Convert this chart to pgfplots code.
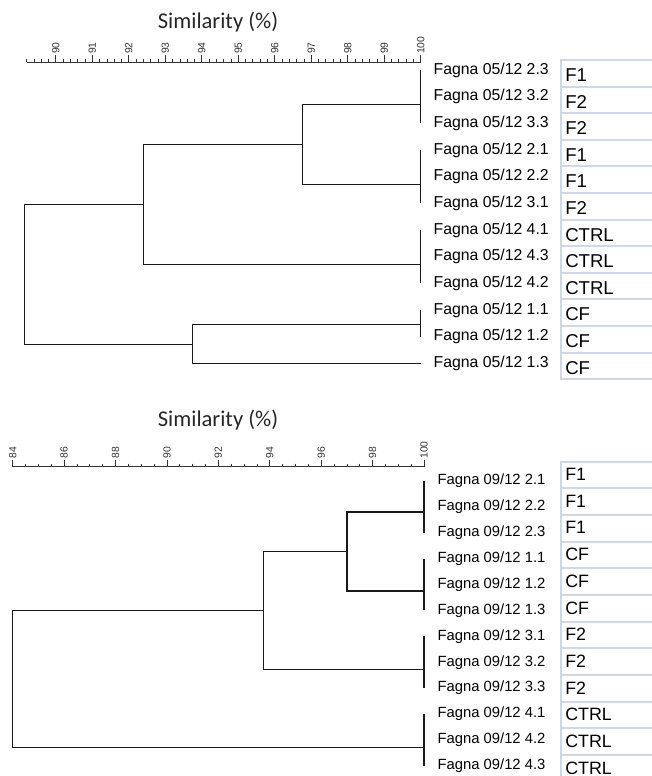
\documentclass[border=0pt]{standalone}
\usepackage{fontspec}
\setmainfont{Liberation Sans}
\newfontfamily\titlefont{Carlito}
\usepackage{pgfplots}
\pgfplotsset{compat=1.18}

\definecolor{treeline}{RGB}{25,25,25}
\definecolor{boxedge}{RGB}{208,216,232}

\pgfplotsset{
  dendro/.style={
    scale only axis, clip=false,
    axis x line=top, axis y line=none,
    x axis line style={-, black!80, line width=0.7pt},
    y dir=reverse, ytick=\empty, ymax=12.5,
    tick align=outside,
    major tick length=5.25pt, minor tick length=2.25pt,
    every tick/.style={black!80, line width=0.6pt},
    xticklabel style={rotate=90, anchor=west, inner sep=0.6pt, text=black!80,
      font=\fontsize{7.8}{8}\selectfont},
    /pgf/number format/assume math mode=true,
  },
  branch/.style={treeline, line width=0.9pt, no marks},
}

\begin{document}
\begin{tikzpicture}

% ---------- upper dendrogram (05/12) ----------
\begin{axis}[dendro,
  at={(20.03pt,-46.5pt)}, anchor=north west,
  width=295.5pt, height=236pt,
  xmin=89.2, xmax=100, ymin=0.7,
  xtick={90,...,100},
  minor xtick={89.2,89.4,...,99.8},
]
  % clusters joined at 100 %
  \addplot[branch] coordinates {(100,1) (100,3)};
  \addplot[branch] coordinates {(100,4) (100,6)};
  \addplot[branch] coordinates {(100,7) (100,9)};
  \addplot[branch] coordinates {(100,10) (100,11)};
  % higher-level joins
  \addplot[branch] coordinates {(100,2.3) (96.77,2.3) (96.77,5.3) (100,5.3)};
  \addplot[branch] coordinates {(96.77,3.8) (92.40,3.8) (92.40,8.3) (100,8.3)};
  \addplot[branch] coordinates {(100,10.55) (93.75,10.55) (93.75,12) (100,12)};
  \addplot[branch] coordinates {(92.40,6.05) (89.15,6.05) (89.15,11.3) (93.75,11.3)};

  \tikzset{leaf/.style={anchor=west, xshift=9.5pt, inner sep=0pt,
      font=\fontsize{11.85}{13}\selectfont}}
  \node[leaf] at (axis cs:100,1)  {Fagna 05/12 2.3};
  \node[leaf] at (axis cs:100,2)  {Fagna 05/12 3.2};
  \node[leaf] at (axis cs:100,3)  {Fagna 05/12 3.3};
  \node[leaf] at (axis cs:100,4)  {Fagna 05/12 2.1};
  \node[leaf] at (axis cs:100,5)  {Fagna 05/12 2.2};
  \node[leaf] at (axis cs:100,6)  {Fagna 05/12 3.1};
  \node[leaf] at (axis cs:100,7)  {Fagna 05/12 4.1};
  \node[leaf] at (axis cs:100,8)  {Fagna 05/12 4.3};
  \node[leaf] at (axis cs:100,9)  {Fagna 05/12 4.2};
  \node[leaf] at (axis cs:100,10) {Fagna 05/12 1.1};
  \node[leaf] at (axis cs:100,11) {Fagna 05/12 1.2};
  \node[leaf] at (axis cs:100,12) {Fagna 05/12 1.3};
\end{axis}

% ---------- lower dendrogram (09/12) ----------
\begin{axis}[dendro,
  at={(9.525pt,-350pt)}, anchor=north west,
  width=308.5pt, height=234.1pt,
  xmin=84, xmax=100, ymin=0.45,
  xtick={84,86,...,100},
  minor xtick={84.5,85,...,99.5},
]
  \addplot[branch] coordinates {(100,1) (100,3)};
  \addplot[branch] coordinates {(100,4) (100,6)};
  \addplot[branch] coordinates {(100,7) (100,9)};
  \addplot[branch] coordinates {(100,10) (100,12)};
  \addplot[branch] coordinates {(100,2.2) (97.0,2.2) (97.0,5.25) (100,5.25)};
  \addplot[branch] coordinates {(97.0,3.72) (93.75,3.72) (93.75,8.27) (100,8.27)};
  \addplot[branch] coordinates {(93.75,6.0) (84.0,6.0) (84.0,11.29) (100,11.29)};

  \tikzset{leaf/.style={anchor=west, xshift=10pt, inner sep=0pt,
      font=\fontsize{11.1}{12}\selectfont}}
  \node[leaf] at (axis cs:100,1)  {Fagna 09/12 2.1};
  \node[leaf] at (axis cs:100,2)  {Fagna 09/12 2.2};
  \node[leaf] at (axis cs:100,3)  {Fagna 09/12 2.3};
  \node[leaf] at (axis cs:100,4)  {Fagna 09/12 1.1};
  \node[leaf] at (axis cs:100,5)  {Fagna 09/12 1.2};
  \node[leaf] at (axis cs:100,6)  {Fagna 09/12 1.3};
  \node[leaf] at (axis cs:100,7)  {Fagna 09/12 3.1};
  \node[leaf] at (axis cs:100,8)  {Fagna 09/12 3.2};
  \node[leaf] at (axis cs:100,9)  {Fagna 09/12 3.3};
  \node[leaf] at (axis cs:100,10) {Fagna 09/12 4.1};
  \node[leaf] at (axis cs:100,11) {Fagna 09/12 4.2};
  \node[leaf] at (axis cs:100,12) {Fagna 09/12 4.3};
\end{axis}

% ---------- titles and group tables ----------
\begin{scope}[x=0.75pt, y=-0.75pt]
  \node[font=\titlefont\fontsize{16.9}{20}\selectfont, text=black!85] at (218,22) {Similarity (\%)};
  \node[font=\titlefont\fontsize{16.9}{20}\selectfont, text=black!85] at (218,420) {Similarity (\%)};

  \foreach \k/\t in {0/F1,1/F2,2/F2,3/F1,4/F1,5/F2,6/CTRL,7/CTRL,8/CTRL,9/CF,10/CF,11/CF}{
    \draw[boxedge, line width=1.5pt] (561,{60+\k*26.6}) rectangle (700,{86.6+\k*26.6});
    \node[anchor=west, inner sep=0pt, font=\fontsize{13.95}{15}\selectfont] at (565,{75+\k*26.6}) {\t};
  }
  \foreach \k/\t in {0/F1,1/F1,2/F1,3/CF,4/CF,5/CF,6/F2,7/F2,8/F2,9/CTRL,10/CTRL,11/CTRL}{
    \draw[boxedge, line width=1.5pt] (561,{461.7+\k*26.67}) rectangle (700,{488.37+\k*26.67});
    \node[anchor=west, inner sep=0pt, font=\fontsize{13.4}{15}\selectfont] at (565,{474.5+\k*26.67}) {\t};
  }

  \pgfresetboundingbox
  \path (0,0) rectangle (651,776);
\end{scope}
\end{tikzpicture}
\end{document}
